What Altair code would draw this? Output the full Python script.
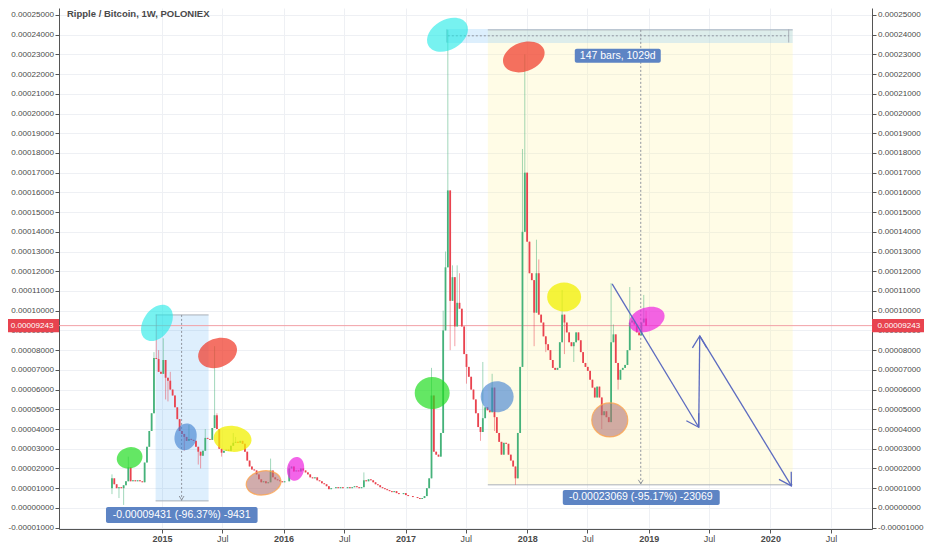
import altair as alt
import pandas as pd

UNIT = 1e-5  # all prices below are in units of 0.00001 BTC

TITLE = "Ripple / Bitcoin, 1W, POLONIEX"
FIRST_WEEK = "2014-08-04"
FIRST_OPEN = 1.0
closes = [
    1.5, 1.2, 1.0, 1.05, 1.0, 1.15, 1.35, 2.05, 1.35, 1.4, 1.35, 1.4, 1.35, 1.3,
    2.3, 3.1, 3.9, 4.8, 7.6, 7.55, 6.9, 6.8,
    7.5, 6.6, 6.45, 6.0, 5.7, 5.1, 4.5, 3.9, 3.75, 3.6, 3.4, 3.5, 3.45, 3.4, 3.1, 2.85, 2.65, 2.9,
    3.55, 3.5, 3.45, 4.05, 4.7, 4.0, 3.0, 2.8, 2.9, 2.95, 2.9, 3.15, 3.3, 3.35, 3.3, 3.4, 3.25,
    2.85, 2.4, 2.1, 1.95, 1.9, 1.7, 1.45, 1.3, 1.35, 1.25, 1.3, 1.9, 1.55, 1.45, 1.4, 1.35, 1.3, 1.35, 1.35,
    2.0, 2.1, 1.85, 1.9, 1.85, 2.0, 1.9, 1.8, 1.7, 1.55, 1.5, 1.55, 1.4, 1.35, 1.25, 1.2, 1.1, 0.95, 1.0, 1.0,
    1.05, 1.0, 1.05, 1.0, 1.0, 1.05, 1.0, 1.05, 1.1, 1.05, 1.0, 1.05,
    1.4, 1.35, 1.45, 1.4, 1.3, 1.2, 1.15, 1.05, 1.0, 0.95, 0.9, 0.85, 0.8, 0.85, 0.75, 0.7, 0.7, 0.75, 0.65,
    0.6, 0.6, 0.55, 0.55, 0.5, 0.45, 0.5,
    0.6, 1.0, 1.5, 5.7, 2.85, 2.7, 2.6, 3.8, 9.0, 12.2, 16.1,
    10.5, 11.7, 9.2, 10.4, 10.1, 9.2, 7.8, 7.15, 6.65, 6.0, 5.5, 4.8, 4.1, 3.85, 4.55, 5.1, 4.95, 4.85, 6.1,
    4.6, 3.8, 3.35, 2.7, 3.3, 3.25, 2.7, 2.4, 2.1, 1.5, 3.8, 7.15, 14.0, 17.0,
    13.5, 11.9, 11.55, 9.9, 11.9, 9.8, 9.4, 8.7, 8.3, 8.0, 7.5, 7.1, 7.0, 7.1, 8.4, 9.8, 9.4, 8.9, 8.4, 8.2,
    8.4, 8.9, 8.5, 7.9, 7.35, 7.15, 6.95, 6.5, 6.1, 5.6, 6.15, 5.6, 4.7, 4.9, 4.6, 4.35, 8.4, 8.8, 7.35, 6.5,
    7.0, 7.1, 7.25, 8.0, 9.4, 9.5, 9.3, 8.9, 8.75, 9.4, 9.6, 9.243,
]
# weekly wicks that reach beyond the candle body (week index -> price)
wick_high = {0: 1.7, 7: 2.6, 18: 7.9, 19: 9.8, 20: 8.0, 22: 8.6, 25: 6.9, 33: 4.2, 40: 4.0, 44: 8.2,
             45: 4.8, 52: 3.8, 53: 3.6, 68: 2.5, 76: 2.2, 108: 1.8, 137: 7.1, 142: 10.0, 143: 13.0,
             144: 24.24, 146: 12.3, 148: 12.3, 149: 11.9, 159: 7.4, 163: 6.8, 176: 18.2, 177: 23.0,
             182: 13.6, 183: 12.6, 193: 11.05, 214: 11.4, 215: 9.3, 222: 11.2, 223: 9.7, 228: 10.8, 229: 10.0}
wick_low = {0: 0.7, 3: 0.5, 5: 0.15, 23: 5.5, 24: 5.4, 31: 2.9, 37: 2.2, 38: 2.0, 47: 2.6, 145: 8.0,
            147: 8.2, 152: 6.3, 158: 3.4, 164: 3.9, 173: 1.17, 181: 8.2, 186: 7.9, 194: 7.8, 198: 7.4,
            210: 4.0, 217: 6.0}

LAST_PRICE = 9.243
Y_TICKS = list(range(-1, 26))
X_TICKS = [(y, m) for y in range(2015, 2021) for m in (1, 7)]

# --- drawings (data coordinates) ---
ell_dates = ["2014-12-17", "2015-06-17", "2014-09-26", "2015-03-13", "2015-08-01", "2015-11-02",
             "2016-02-06", "2017-05-07", "2017-12-22", "2017-03-22", "2017-10-03", "2018-04-22",
             "2018-09-06", "2018-12-26"]
ell_prices = [9.38, 7.86, 2.54, 3.60, 3.50, 1.27, 1.98, 23.99, 22.87, 5.83, 5.64, 10.70, 4.46, 9.55]
ell_kind = ["cyan", "red", "green", "blue", "yellow", "brown", "magenta",
            "cyan", "red", "green", "blue", "yellow", "brown", "magenta"]
ell_w = [40, 40, 26, 27, 38, 35, 24, 44, 43, 35, 33, 34, 36, 37]
ell_h = [27, 29, 21, 22, 26, 24, 17, 30, 29, 32, 31, 29, 34, 24]
ell_angle = [305, 340, 345, 285, 5, 350, 280, 330, 340, 0, 0, 0, 0, 340]
ELL_FILL = {"cyan": ("#1de9e6", 0.6), "red": ("#f03a2a", 0.72), "green": ("#22dd22", 0.7),
            "blue": ("#3f7fd0", 0.62), "yellow": ("#f2f000", 0.75), "brown": ("#b27475", 0.6),
            "magenta": ("#ee22e0", 0.7)}

arrow_from_d = ["2018-09-13", "2019-05-31", "2019-06-03"]
arrow_from_p = [11.36, 4.09, 8.72]
arrow_to_d = ["2019-05-31", "2019-06-03", "2020-03-04"]
arrow_to_p = [4.09, 8.72, 1.12]
arrow_dir = [58.7, 270.6, 58.5]

measure_labels = ["-0.00009431 (-96.37%) -9431", "-0.00023069 (-95.17%) -23069", "147 bars, 1029d"]
measure_cx = ["2015-03-01", "2018-12-08", "2018-09-30"]
measure_cy = [-0.355, 0.53, 22.92]
measure_d1 = ["2014-07-17", "2018-04-18", "2018-05-24"]
measure_d2 = ["2015-10-15", "2019-08-02", "2019-02-06"]
measure_p1 = [-0.76, 0.15, 22.57]
measure_p2 = [0.05, 0.91, 23.28]

# ---------------------------------------------------------------
FONT = "Liberation Sans"
TXT = "#4a4a4a"
AXC = "#555555"
GRID = "#eef0f4"
UP, DOWN = "#45b27a", "#e9434f"
YFS = 8.1
PLOT_W, PLOT_H = 813, 521

dates = pd.date_range(FIRST_WEEK, periods=len(closes), freq="7D")
opens = [FIRST_OPEN] + closes[:-1]
rows = []
for i, (d, o, c) in enumerate(zip(dates, opens, closes)):
    hi = max(o, c, wick_high.get(i, -1))
    lo = min(o, c, wick_low.get(i, 1e9))
    rows.append(dict(d=d.strftime("%Y-%m-%d"), o=o * UNIT, c=c * UNIT, h=hi * UNIT, l=lo * UNIT,
                     dir="up" if c >= o else "down"))
candles = pd.DataFrame(rows)

Y_TOP = 25.35
Y_BOTTOM = Y_TOP - PLOT_H / 19.72
yscale = alt.Scale(domain=[Y_BOTTOM * UNIT, Y_TOP * UNIT], nice=False, zero=False)
xscale = alt.Scale(type="utc", nice=False,
                   domain=[alt.DateTime(year=2014, month=2, date=26, utc=True),
                           alt.DateTime(year=2020, month=11, date=1, utc=True)])


def X(f="d", axis=None):
    return alt.X(f"{f}:T", scale=xscale, axis=axis, title=None)


def Y(f="p", axis=None):
    return alt.Y(f"{f}:Q", scale=yscale, axis=axis, title=None)


LBL = "datum.value < 0 ? '-' + format(-datum.value, '.8f') : format(datum.value, '.8f')"
ytick_vals = [round(k * UNIT, 10) for k in Y_TICKS]
axis_common = dict(values=ytick_vals, labelExpr=LBL, domainColor=AXC, tickColor=AXC, tickSize=4,
                   labelPadding=1.5, labelColor=TXT, labelFont=FONT, labelFontSize=YFS, title=None,
                   labelOverlap=False)
left_axis = alt.Axis(orient="left", grid=True, gridColor=GRID, **axis_common)
right_axis = alt.Axis(orient="right", grid=False, **axis_common)
x_axis = alt.Axis(
    orient="bottom",
    values=[alt.DateTime(year=y, month=m, date=1, utc=True) for y, m in X_TICKS],
    labelExpr="utcmonth(datum.value) == 0 ? utcFormat(datum.value, '%Y') : 'Jul'",
    labelFontWeight={"condition": {"test": "utcmonth(datum.value) == 0", "value": "bold"}, "value": "normal"},
    grid=True, gridColor=GRID, domainColor=AXC, tickColor=AXC, tickSize=4, labelPadding=1,
    labelFont=FONT, labelFontSize=9, labelColor=TXT, title=None, labelFlush=False, labelOverlap=False)


def P(v):
    return v * UNIT


# rectangles of the measuring tools
yellow_box = alt.Chart(pd.DataFrame([dict(d="2017-09-05", d2="2020-03-08", p=P(1.17), p2=P(24.24))])).mark_rect(
    color="#fff59d", opacity=0.25).encode(x=X(), x2="d2:T", y=Y(), y2="p2:Q")
left_box = alt.Chart(pd.DataFrame([dict(d="2014-12-13", d2="2015-05-21", p=P(0.355), p2=P(9.786))])).mark_rect(
    color="#2196f3", opacity=0.15).encode(x=X(), x2="d2:T", y=Y(), y2="p2:Q")
band = alt.Chart(pd.DataFrame([dict(d="2017-05-05", d2="2020-03-08", p=P(23.58), p2=P(24.29))])).mark_rect(
    color="#90caf9", opacity=0.3).encode(x=X(), x2="d2:T", y=Y(), y2="p2:Q")

borders = alt.Chart(pd.DataFrame([
    dict(d="2014-12-13", d2="2015-05-21", p=P(9.786), p2=P(9.786)),
    dict(d="2014-12-13", d2="2015-05-21", p=P(0.355), p2=P(0.355)),
    dict(d="2017-09-05", d2="2020-03-08", p=P(24.24), p2=P(24.24)),
    dict(d="2017-09-05", d2="2020-03-08", p=P(1.17), p2=P(1.17)),
    dict(d="2017-05-05", d2="2017-05-05", p=P(23.6), p2=P(24.27)),
    dict(d="2020-02-25", d2="2020-02-25", p=P(23.6), p2=P(24.27)),
])).mark_rule(color="#a9afb8", strokeWidth=1).encode(x=X(), x2="d2:T", y=Y(), y2="p2:Q")

dotted = alt.Chart(pd.DataFrame([
    dict(d="2015-03-01", d2="2015-03-01", p=P(9.786), p2=P(0.355)),
    dict(d="2018-12-08", d2="2018-12-08", p=P(24.24), p2=P(1.17)),
    dict(d="2017-05-08", d2="2020-02-25", p=P(23.94), p2=P(23.94)),
])).mark_rule(color="#8f959e", strokeWidth=1, strokeDash=[2, 2]).encode(x=X(), x2="d2:T", y=Y(), y2="p2:Q")

vee = "M -1 -0.6 L 0 0 L -1 0.6"
small_heads = alt.Chart(pd.DataFrame([
    dict(d="2015-03-01", p=P(0.4), a=90),
    dict(d="2018-12-08", p=P(1.22), a=90),
])).mark_point(shape=vee, filled=False, color="#8f959e", size=64, strokeWidth=1, opacity=1).encode(
    x=X(), y=Y(), angle=alt.Angle("a:Q", scale=None))

price_line = alt.Chart(pd.DataFrame({"p": [P(LAST_PRICE)]})).mark_rule(color="#f2a0a6", strokeWidth=1).encode(
    y=Y("p", axis=right_axis))

wicks = alt.Chart(candles).mark_rule(strokeWidth=1, opacity=0.5).encode(
    x=X(), y=Y("l"), y2="h:Q",
    color=alt.Color("dir:N", scale=alt.Scale(domain=["up", "down"], range=[UP, DOWN]), legend=None))
bodies = alt.Chart(candles).mark_rule(strokeWidth=1.8).encode(
    x=X("d", axis=x_axis), y=Y("o", axis=left_axis), y2="c:Q",
    color=alt.Color("dir:N", scale=alt.Scale(domain=["up", "down"], range=[UP, DOWN]), legend=None))

ell = pd.DataFrame({"d": ell_dates, "p": [P(v) for v in ell_prices], "k": ell_kind,
                    "w": ell_w, "h": ell_h, "a": ell_angle})
ell["shape"] = [f"M -1 0 A 1 {h / w:.3f} 0 1 0 1 0 A 1 {h / w:.3f} 0 1 0 -1 0 Z" for w, h in zip(ell.w, ell.h)]
ell["size"] = ell.w ** 2
ell["fill"] = [ELL_FILL[k][0] for k in ell.k]
ell["op"] = [ELL_FILL[k][1] for k in ell.k]
ellipses = alt.Chart(ell).mark_point(filled=True, strokeWidth=0).encode(
    x=X(), y=Y(), shape=alt.Shape("shape:N", scale=None), size=alt.Size("size:Q", scale=None),
    angle=alt.Angle("a:Q", scale=None), color=alt.Color("fill:N", scale=None),
    opacity=alt.Opacity("op:Q", scale=None))
ellipse_rims = alt.Chart(ell[ell.k == "brown"]).mark_point(filled=False, color="#ffa64d", strokeWidth=1.2,
                                                          opacity=0.8).encode(
    x=X(), y=Y(), shape=alt.Shape("shape:N", scale=None), size=alt.Size("size:Q", scale=None),
    angle=alt.Angle("a:Q", scale=None))

arr = pd.DataFrame({"d": arrow_from_d, "p": [P(v) for v in arrow_from_p],
                    "d2": arrow_to_d, "p2": [P(v) for v in arrow_to_p], "a": arrow_dir})
ARROW = "#5c6bc0"
arrows = alt.Chart(arr).mark_rule(color=ARROW, strokeWidth=1.3).encode(x=X(), x2="d2:T", y=Y(), y2="p2:Q")
heads = alt.Chart(arr).mark_point(shape=vee, filled=False, color=ARROW, size=576, strokeWidth=1.3,
                                  opacity=1).encode(
    x=X("d2"), y=Y("p2"), angle=alt.Angle("a:Q", scale=None))

ml = pd.DataFrame({"t": measure_labels, "d": measure_cx, "p": [P(v) for v in measure_cy],
                   "d1": measure_d1, "d2": measure_d2,
                   "p1": [P(v) for v in measure_p1], "p2": [P(v) for v in measure_p2]})
label_boxes = alt.Chart(ml).mark_rect(color="#5d84c4", cornerRadius=2).encode(
    x=X("d1"), x2="d2:T", y=Y("p1"), y2="p2:Q")
label_texts = alt.Chart(ml).mark_text(color="white", font=FONT, fontSize=10.5, align="center",
                                      baseline="middle").encode(x=X(), y=Y(), text="t:N")

pl = pd.DataFrame({"p": [P(LAST_PRICE)], "p1": [P(LAST_PRICE - 0.33)], "p2": [P(LAST_PRICE + 0.33)],
                   "t": [f"{LAST_PRICE * UNIT:.8f}"]})
red_left = alt.Chart(pl).mark_rect(color="#e8434f").encode(
    x=alt.value(-57), x2=alt.value(0), y=Y("p1"), y2="p2:Q")
red_right = alt.Chart(pl).mark_rect(color="#e8434f").encode(
    x=alt.value(PLOT_W), x2=alt.value(PLOT_W + 52), y=Y("p1"), y2="p2:Q")
red_left_t = alt.Chart(pl).mark_text(color="white", font=FONT, fontSize=YFS, align="right",
                                     baseline="middle").encode(x=alt.value(-5.5), y=Y(), text="t:N")
red_right_t = alt.Chart(pl).mark_text(color="white", font=FONT, fontSize=YFS, align="left",
                                      baseline="middle").encode(x=alt.value(PLOT_W + 5.5), y=Y(), text="t:N")

title = alt.Chart(pd.DataFrame({"t": [TITLE]})).mark_text(
    align="left", baseline="top", font=FONT, fontSize=9.5, fontWeight="bold", color=TXT).encode(
    x=alt.value(8), y=alt.value(1), text="t:N")

chart = alt.layer(
    yellow_box, left_box, band, borders, dotted, small_heads, price_line, wicks, bodies,
    ellipses, ellipse_rims, arrows, heads, label_boxes, label_texts,
    red_left, red_right, red_left_t, red_right_t, title,
).resolve_axis(x="independent", y="independent").properties(
    width=PLOT_W, height=PLOT_H,
    autosize=alt.AutoSizeParams(type="none"),
    padding={"left": 51, "top": 0, "right": 52, "bottom": 13},
    background="white",
).configure_view(strokeWidth=0)

chart.save("out.html", embed_options={"renderer": "svg", "actions": False})
